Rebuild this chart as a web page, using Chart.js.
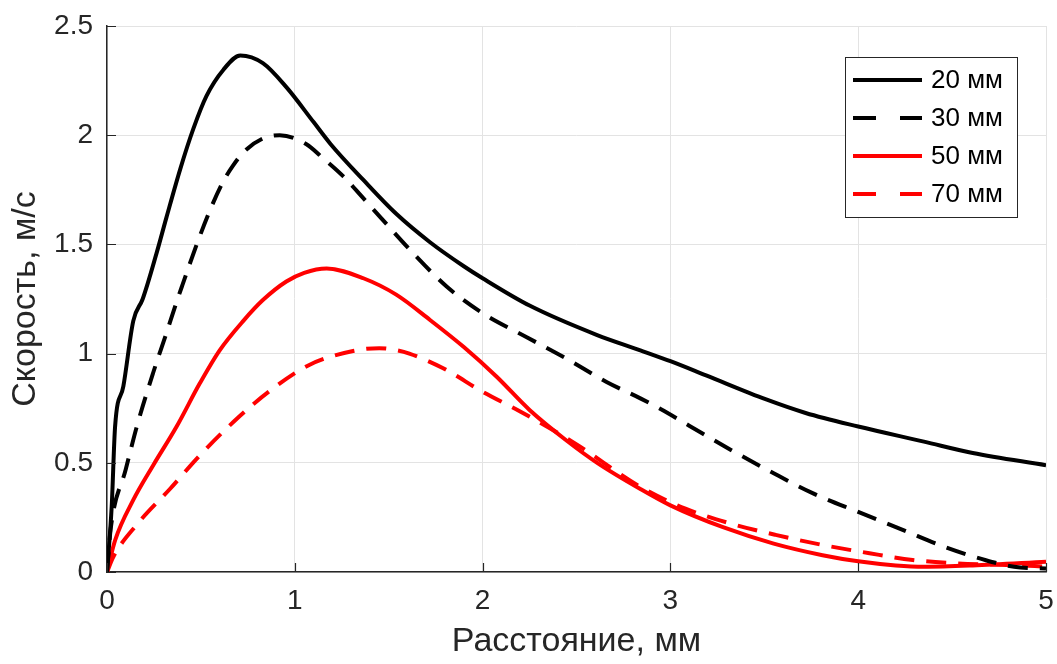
<!DOCTYPE html>
<html lang="ru">
<head>
    <meta charset="UTF-8">
    <title>Скорость</title>
    <style>
        body {
            margin: 0;
            padding: 0;
            background: #ffffff;
        }
        .wrap {
            width: 1057px;
            height: 664px;
            position: relative;
        }
    </style>
    <script src="https://cdn.jsdelivr.net/npm/chart.js"></script>
</head>
<body>

<div class="wrap">
    <canvas id="speedChart" width="1057" height="664"></canvas>
</div>

<script>
    // series names
    const seriesNames = ['20 мм', '30 мм', '50 мм', '70 мм'];

    // 20 mm
    const x20 = [0, 0.025, 0.043, 0.087, 0.14, 0.19, 0.264, 0.317, 0.39, 0.46, 0.53, 0.62, 0.71, 0.83, 0.955, 1.10, 1.19, 1.365, 1.54, 1.72, 1.90, 2.0, 2.25, 2.61, 2.84, 3.0, 3.19, 3.51, 3.72, 4.0, 4.35, 4.61, 5.0];
    const y20 = [0, 0.30, 0.665, 0.85, 1.15, 1.25, 1.46, 1.625, 1.845, 2.03, 2.18, 2.30, 2.365, 2.33, 2.22, 2.06, 1.96, 1.795, 1.64, 1.51, 1.40, 1.345, 1.22, 1.085, 1.015, 0.965, 0.90, 0.79, 0.728, 0.666, 0.597, 0.545, 0.489];

    // 30 mm
    const x30 = [0, 0.02, 0.1, 0.16, 0.245, 0.315, 0.37, 0.40, 0.48, 0.55, 0.62, 0.67, 0.73, 0.83, 0.92, 1.06, 1.15, 1.26, 1.33, 1.455, 1.63, 1.81, 2.0, 2.235, 2.45, 2.66, 2.84, 2.95, 3.10, 3.32, 3.55, 3.76, 4.0, 4.24, 4.46, 4.68, 4.83, 5.0];
    const y30 = [0, 0.20, 0.47, 0.67, 0.91, 1.09, 1.235, 1.31, 1.505, 1.66, 1.79, 1.86, 1.925, 1.985, 2.0, 1.96, 1.895, 1.81, 1.745, 1.625, 1.46, 1.306, 1.185, 1.075, 0.975, 0.87, 0.795, 0.745, 0.67, 0.56, 0.452, 0.36, 0.275, 0.192, 0.115, 0.054, 0.024, 0.016];

    // 50 mm
    const x50 = [0, 0.043, 0.14, 0.247, 0.37, 0.495, 0.60, 0.726, 0.83, 0.955, 1.05, 1.17, 1.365, 1.54, 1.72, 1.90, 2.075, 2.25, 2.45, 2.61, 2.84, 3.0, 3.28, 3.55, 3.81, 4.0, 4.2, 4.35, 4.61, 5.0];
    const y50 = [0, 0.145, 0.33, 0.49, 0.665, 0.865, 1.015, 1.15, 1.245, 1.33, 1.37, 1.39, 1.345, 1.27, 1.154, 1.03, 0.894, 0.742, 0.60, 0.50, 0.38, 0.305, 0.205, 0.13, 0.077, 0.049, 0.03, 0.024, 0.03, 0.047];

    // 70 mm
    const x70 = [0, 0.034, 0.167, 0.335, 0.49, 0.677, 0.868, 1.077, 1.31, 1.45, 1.54, 1.61, 1.79, 2.0, 2.2, 2.49, 2.84, 3.08, 3.32, 3.56, 3.81, 4.06, 4.29, 4.52, 4.79, 5.0];
    const y70 = [0, 0.07, 0.225, 0.38, 0.53, 0.69, 0.83, 0.948, 1.012, 1.025, 1.016, 1.0, 0.933, 0.825, 0.735, 0.59, 0.39, 0.29, 0.222, 0.17, 0.124, 0.086, 0.055, 0.04, 0.032, 0.025];

    const xTicks = [0, 1, 2, 3, 4, 5];
    const yTicks = [0, 0.5, 1, 1.5, 2, 2.5];

    const axisColor = '#262626';
    const gridColor = '#e3e3e3';
    const fontFamily = 'Arial, "Liberation Sans", Helvetica, sans-serif';

    function toPoints(xs, ys) {
        return xs.map((x, i) => ({ x: x, y: ys[i] }));
    }

    function makeSet(name, xs, ys, color, dashed) {
        return {
            label: name,
            data: toPoints(xs, ys),
            borderColor: color,
            backgroundColor: color,
            borderWidth: 4,
            borderDash: dashed ? [20, 12] : [],
            pointRadius: 0,
            fill: false,
            cubicInterpolationMode: 'monotone'
        };
    }

    // ticks pointing into the plot, like the original
    const innerTicks = {
        id: 'innerTicks',
        afterDatasetsDraw(chart) {
            const ctx = chart.ctx;
            const area = chart.chartArea;
            const xs = chart.scales.x;
            const ys = chart.scales.y;
            ctx.save();
            ctx.strokeStyle = axisColor;
            ctx.lineWidth = 1.2;
            ctx.beginPath();
            xTicks.forEach(v => {
                const px = Math.round(xs.getPixelForValue(v)) + 0.5;
                ctx.moveTo(px, area.bottom);
                ctx.lineTo(px, area.bottom - 9);
            });
            yTicks.forEach(v => {
                const py = Math.round(ys.getPixelForValue(v)) + 0.5;
                ctx.moveTo(area.left, py);
                ctx.lineTo(area.left + 9, py);
            });
            ctx.stroke();
            ctx.restore();
        }
    };

    // boxed legend inside the plot, top right
    const boxLegend = {
        id: 'boxLegend',
        afterDraw(chart) {
            const ctx = chart.ctx;
            const bx = 845, by = 57, bw = 172, bh = 160;
            ctx.save();
            ctx.fillStyle = '#ffffff';
            ctx.fillRect(bx, by, bw, bh);
            ctx.strokeStyle = axisColor;
            ctx.lineWidth = 1;
            ctx.strokeRect(bx + 0.5, by + 0.5, bw, bh);
            ctx.font = '26px ' + fontFamily;
            ctx.textBaseline = 'middle';
            chart.data.datasets.forEach((ds, i) => {
                const rowY = 80 + i * 38;
                ctx.strokeStyle = ds.borderColor;
                ctx.lineWidth = 4;
                ctx.setLineDash(ds.borderDash.length ? [23, 24] : []);
                ctx.beginPath();
                ctx.moveTo(853, rowY);
                ctx.lineTo(922, rowY);
                ctx.stroke();
                ctx.setLineDash([]);
                ctx.fillStyle = '#000000';
                ctx.fillText(ds.label, 931, rowY + 1);
            });
            ctx.restore();
        }
    };

    const ctx = document.getElementById('speedChart').getContext('2d');
    const speedChart = new Chart(ctx, {
        type: 'line',
        data: {
            datasets: [
                makeSet(seriesNames[0], x20, y20, '#000000', false),
                makeSet(seriesNames[1], x30, y30, '#000000', true),
                makeSet(seriesNames[2], x50, y50, '#ff0000', false),
                makeSet(seriesNames[3], x70, y70, '#ff0000', true)
            ]
        },
        options: {
            responsive: false,
            animation: false,
            layout: {
                padding: { top: 26, right: 11, left: 0, bottom: 0 }
            },
            plugins: {
                legend: { display: false },
                tooltip: { enabled: false }
            },
            scales: {
                x: {
                    type: 'linear',
                    min: 0,
                    max: 5,
                    afterBuildTicks: axis => { axis.ticks = xTicks.map(v => ({ value: v })); },
                    afterFit: axis => {
                        axis.height = 92;
                        axis.paddingLeft = 0;
                        axis.paddingRight = 0;
                    },
                    grid: { color: gridColor, lineWidth: 1, drawTicks: false, tickLength: 0 },
                    border: { display: true, color: axisColor, width: 1.5 },
                    ticks: {
                        color: axisColor,
                        padding: 12,
                        maxRotation: 0,
                        font: { size: 28, family: fontFamily }
                    },
                    title: {
                        display: true,
                        text: 'Расстояние, мм',
                        color: axisColor,
                        padding: { top: 2, bottom: 2 },
                        font: { size: 34, family: fontFamily }
                    }
                },
                y: {
                    type: 'linear',
                    min: 0,
                    max: 2.5,
                    afterBuildTicks: axis => { axis.ticks = yTicks.map(v => ({ value: v })); },
                    afterFit: axis => {
                        axis.width = 107;
                        axis.paddingTop = 0;
                        axis.paddingBottom = 0;
                    },
                    grid: { color: gridColor, lineWidth: 1, drawTicks: false, tickLength: 0 },
                    border: { display: true, color: axisColor, width: 1.5 },
                    ticks: {
                        color: axisColor,
                        padding: 14,
                        font: { size: 28, family: fontFamily },
                        callback: v => String(v)
                    },
                    title: {
                        display: true,
                        text: 'Скорость, м/с',
                        color: axisColor,
                        padding: { top: 5, bottom: 5 },
                        font: { size: 34, family: fontFamily }
                    }
                }
            }
        },
        plugins: [innerTicks, boxLegend]
    });
</script>

</body>
</html>
